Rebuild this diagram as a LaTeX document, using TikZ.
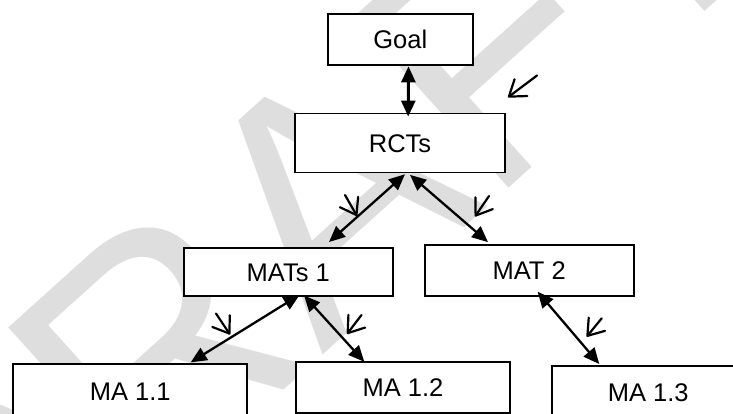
\documentclass[tikz,border=0pt]{standalone}
\usepackage{fontspec}
\setmainfont{Liberation Sans}
\usetikzlibrary{arrows.meta}
\tikzset{
  box/.style={draw=black, fill=white, line width=1.9pt, rectangle, inner sep=0pt,
    font=\fontsize{25.5}{25.5}\selectfont, text height=18.2pt, text depth=0pt},
  biarrow/.style={line width=2.3pt, {Triangle[length=16pt,width=14pt]}-{Triangle[length=16pt,width=14pt]}},
  hint/.style={line width=2.2pt, line cap=round, line join=round, -{Straight Barb[length=15pt,width=21pt,line cap=round,line join=round]}},
  watermark/.style={text=black!13, inner sep=0pt, font=\fontsize{335}{335}\selectfont},
}
\begin{document}
\begin{tikzpicture}[x=1pt,y=-1pt]
\useasboundingbox (0,0) rectangle (733,414);
\clip (0,0) rectangle (733,414);
% watermark
\node[watermark, rotate=42, anchor=base west] (wm) at (-37.3,679.8) {DRAFT};
% boxes
\node[box, minimum width=144.5pt, minimum height=51.4pt] (goal) at (400.3,39.7) {Goal};
\node[box, minimum width=210pt, minimum height=59pt] (rct) at (400,143) {RCTs};
\node[box, minimum width=208.5pt, minimum height=48pt] (mats1) at (288.3,272) {MATs 1};
\node[box, minimum width=209.3pt, minimum height=51.5pt] (mat2) at (529.2,270.3) {MAT 2};
\node[box, minimum width=234pt, minimum height=54pt] (ma11) at (130.3,391) {MA 1.1};
\node[box, minimum width=214pt, minimum height=51.3pt] (ma12) at (403,387.4) {MA 1.2};
\node[box, minimum width=192.4pt, minimum height=52pt] (ma13) at (648.2,392) {MA 1.3};
% connectors
\draw[biarrow, line width=2.9pt] ([xshift=8.2pt]goal.south) -- ([xshift=8.2pt,yshift=-4pt]rct.north);
\draw[biarrow] ([xshift=5pt,yshift=-0.8pt]rct.south) -- ([xshift=40.7pt,yshift=5pt]mats1.north);
\draw[biarrow] ([xshift=10pt,yshift=-1.4pt]rct.south) -- ([xshift=-41.2pt,yshift=1.5pt]mat2.north);
\draw[biarrow] ([xshift=11.2pt,yshift=2pt]mats1.south) -- ([xshift=60.4pt,yshift=0.7pt]ma11.north);
\draw[biarrow] ([xshift=15.7pt,yshift=1.5pt]mats1.south) -- ([xshift=-38.7pt,yshift=-1pt]ma12.north);
\draw[biarrow] ([xshift=8.4pt,yshift=5.3pt]mat2.south) -- ([xshift=-48.9pt,yshift=1pt]ma13.north);
% small hint arrows
\coordinate (s0a) at (537,75.5); \coordinate (s0b) at (508,97.3);
\coordinate (s1a) at (345,195);  \coordinate (s1b) at (357,216);
\coordinate (s2a) at (489,196);  \coordinate (s2b) at (475,216.5);
\coordinate (s3a) at (216,313.5);\coordinate (s3b) at (230,334.5);
\coordinate (s4a) at (361.5,315);\coordinate (s4b) at (347,334);
\coordinate (s5a) at (601.7,318.3);\coordinate (s5b) at (586.7,336.7);
\draw[hint] (s0a) -- (s0b);
\draw[hint] (s1a) -- (s1b);
\draw[hint] (s2a) -- (s2b);
\draw[hint] (s3a) -- (s3b);
\draw[hint] (s4a) -- (s4b);
\draw[hint] (s5a) -- (s5b);
\end{tikzpicture}
\end{document}
